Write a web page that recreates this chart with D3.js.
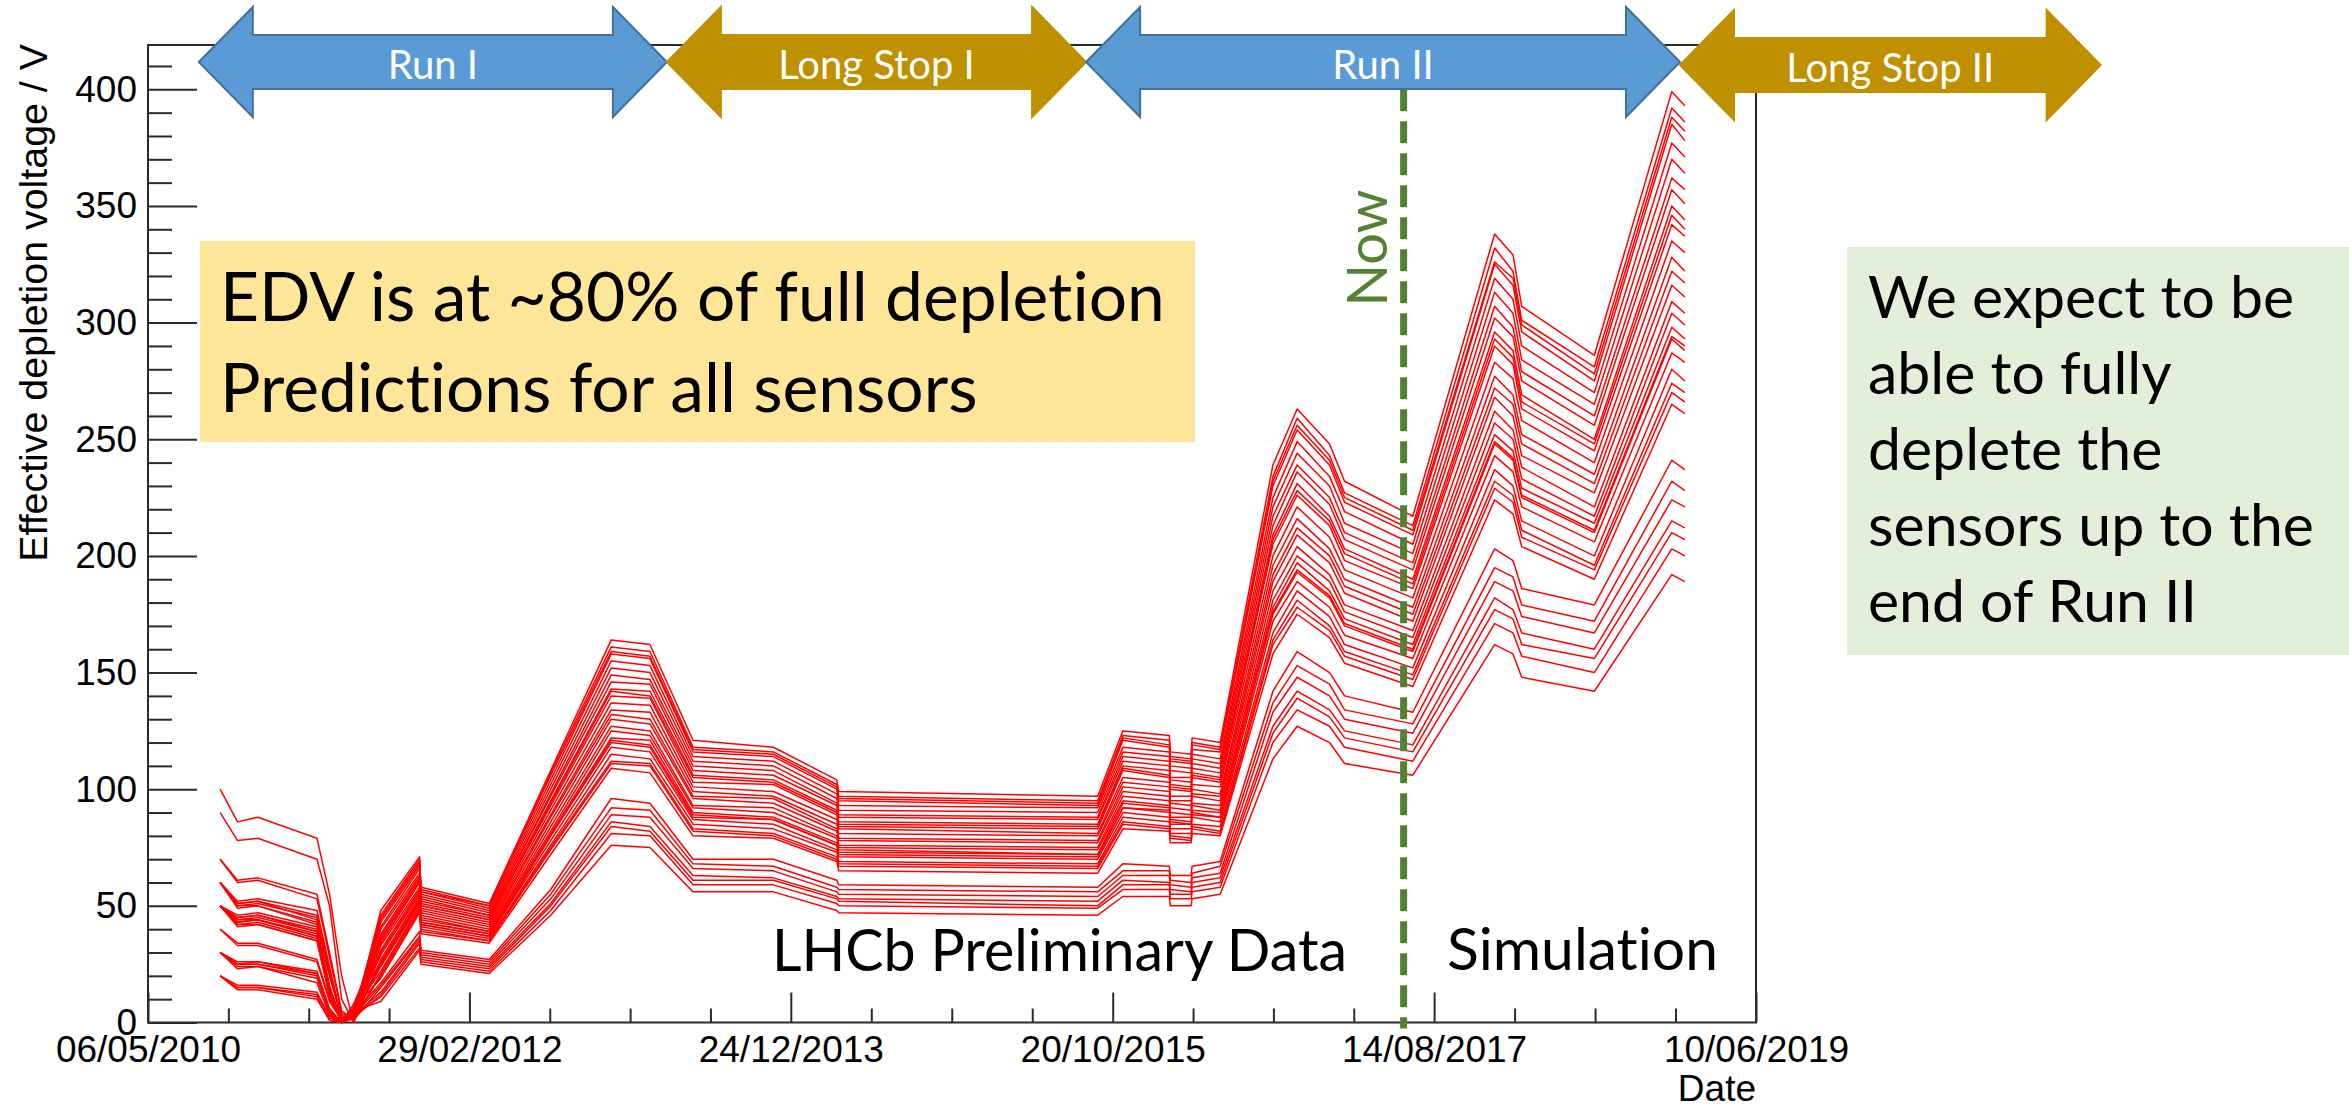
<!DOCTYPE html>
<html>
<head>
<meta charset="utf-8">
<script src="https://cdn.jsdelivr.net/npm/d3@7"></script>
<style>
  html, body { margin: 0; padding: 0; background: #ffffff; }
  svg { display: block; }
  text { font-variant-ligatures: none; font-feature-settings: "liga" 0, "clig" 0; }
</style>
</head>
<body>
<svg id="chart" width="2349" height="1108"></svg>
<script>
// ---------------------------------------------------------------
// Effective depletion voltage (V) of the VELO sensors, one row per sensor.
// The curve of every sensor is split into four consecutive date blocks.
// ---------------------------------------------------------------

// Run I (2010 - spring 2012): initial fall, type inversion, first rise
const runOneDates = ["2010-10-02", "2010-11-07", "2010-12-19", "2011-04-20", "2011-05-16", "2011-06-10",
                     "2011-07-05", "2011-08-30", "2011-11-18", "2011-11-21", "2012-04-10"];
const runOneEDV = [
  [60, 52, 53, 48, 24, 1, 2, 48, 71, 58, 51],
  [50, 46, 47, 41, 16, 0, 4, 46, 70, 57, 50],
  [100, 86, 88, 79, 55, 20, 0, 44, 68, 56, 49],
  [50, 45, 46, 40, 15, 1, 3, 43, 67, 55, 48],
  [60, 51, 52, 46, 22, 2, 1, 41, 66, 54, 47],
  [30, 26, 26, 22, 6, 0, 6, 40, 64, 53, 46],
  [50, 44, 45, 39, 14, 0, 3, 38, 63, 52, 46],
  [70, 61, 62, 55, 30, 5, 1, 37, 62, 51, 45],
  [20, 16, 16, 13, 2, 0, 8, 35, 61, 50, 44],
  [50, 44, 44, 38, 13, 0, 2, 34, 60, 49, 43],
  [60, 50, 51, 45, 21, 2, 2, 33, 58, 48, 42],
  [40, 34, 34, 27, 10, 1, 4, 31, 57, 47, 41],
  [30, 25, 25, 21, 5, 0, 5, 30, 56, 46, 40],
  [50, 43, 44, 37, 14, 1, 3, 29, 55, 45, 39],
  [90, 78, 79, 70, 50, 10, 0, 27, 54, 44, 39],
  [20, 15, 15, 12, 3, 0, 7, 26, 53, 43, 38],
  [60, 50, 50, 43, 20, 2, 2, 25, 52, 42, 37],
  [50, 42, 43, 36, 12, 0, 3, 24, 51, 42, 37],
  [30, 25, 25, 20, 4, 0, 5, 22, 50, 41, 36],
  [70, 60, 61, 53, 28, 4, 1, 21, 49, 40, 35],
  [50, 42, 42, 35, 11, 0, 2, 20, 48, 39, 35],
  [20, 15, 15, 11, 1, 0, 6, 19, 47, 38, 34],
  [30, 24, 24, 19, 4, 0, 4, 17, 39, 31, 27],
  [60, 49, 50, 42, 20, 3, 1, 15, 36, 29, 25],
  [40, 33, 33, 26, 9, 1, 3, 13, 35, 28, 24],
  [50, 41, 42, 35, 12, 0, 2, 12, 34, 27, 23],
  [30, 23, 24, 17, 3, 0, 3, 11, 32, 26, 22],
  [20, 14, 14, 10, 1, 0, 5, 9, 31, 25, 21],
  [50, 45, 46, 39, 14, 0, 4, 45, 69, 56, 50],
  [60, 51, 52, 44, 22, 2, 2, 36, 61, 50, 44],
  [30, 25, 26, 21, 5, 0, 5, 25, 52, 43, 38],
  [50, 43, 44, 37, 15, 1, 3, 16, 37, 30, 26]
];

// 2012 run and Long Stop I annealing
const longStopDates = ["2012-08-15", "2012-12-18", "2013-03-08", "2013-06-05",
                       "2013-11-18", "2014-03-29", "2014-04-02", "2015-09-19"];
const longStopEDV = [
  [108, 164, 162, 121, 118, 104, 99, 97],
  [107, 161, 159, 118, 116, 102, 97, 95],
  [104, 158, 156, 116, 114, 100, 95, 93],
  [102, 155, 153, 114, 112, 98, 93, 92],
  [100, 152, 150, 112, 110, 96, 91, 90],
  [98, 149, 147, 110, 108, 94, 89, 88],
  [97, 146, 145, 108, 106, 93, 88, 87],
  [95, 143, 142, 106, 104, 91, 86, 85],
  [93, 140, 139, 103, 102, 89, 84, 83],
  [91, 137, 136, 101, 99, 87, 83, 81],
  [89, 134, 133, 99, 97, 85, 81, 80],
  [88, 132, 130, 97, 96, 83, 79, 78],
  [86, 130, 128, 96, 94, 82, 78, 77],
  [84, 127, 125, 93, 92, 80, 76, 75],
  [82, 125, 123, 92, 90, 79, 75, 74],
  [81, 122, 121, 90, 88, 77, 74, 72],
  [80, 120, 118, 88, 87, 76, 72, 71],
  [78, 118, 116, 87, 85, 74, 71, 70],
  [76, 115, 113, 85, 83, 73, 69, 68],
  [75, 112, 111, 83, 81, 71, 68, 67],
  [74, 111, 110, 82, 80, 70, 67, 66],
  [72, 109, 107, 80, 79, 69, 65, 64],
  [57, 96, 94, 70, 70, 61, 59, 58],
  [53, 89, 88, 66, 65, 56, 55, 54],
  [51, 86, 84, 63, 62, 54, 53, 52],
  [50, 84, 82, 61, 61, 53, 52, 50],
  [48, 81, 80, 59, 59, 51, 50, 49],
  [46, 76, 75, 56, 56, 48, 47, 46],
  [106, 159, 157, 117, 115, 101, 96, 94],
  [94, 142, 140, 105, 103, 90, 85, 84],
  [80, 121, 119, 89, 87, 76, 73, 72],
  [55, 92, 91, 68, 67, 58, 57, 56]
];

// Run II measurements up to mid 2017
const runTwoDates = ["2015-11-10", "2016-02-14", "2016-02-16", "2016-03-30", "2016-04-01", "2016-05-29",
                     "2016-09-15", "2016-11-04", "2017-01-10", "2017-02-10", "2017-07-01"];
const runTwoEDV = [
  [125, 123, 116, 115, 122, 120, 239, 263, 248, 232, 217],
  [123, 121, 114, 113, 120, 118, 234, 259, 243, 227, 213],
  [121, 118, 112, 111, 117, 116, 230, 254, 239, 223, 209],
  [118, 116, 110, 109, 115, 113, 225, 249, 234, 219, 205],
  [116, 114, 108, 107, 113, 111, 221, 244, 230, 214, 201],
  [114, 112, 105, 105, 111, 109, 217, 239, 225, 210, 197],
  [112, 110, 104, 103, 109, 107, 213, 236, 222, 207, 194],
  [110, 108, 102, 101, 107, 105, 209, 231, 217, 203, 190],
  [108, 105, 100, 99, 105, 103, 205, 226, 213, 198, 186],
  [105, 103, 97, 97, 102, 101, 200, 221, 208, 194, 182],
  [103, 101, 95, 95, 100, 98, 196, 216, 203, 190, 178],
  [101, 99, 94, 93, 98, 97, 192, 212, 200, 187, 175],
  [99, 97, 92, 91, 97, 95, 189, 209, 197, 184, 172],
  [97, 95, 90, 89, 94, 93, 185, 204, 192, 179, 168],
  [95, 93, 88, 88, 93, 91, 181, 200, 189, 176, 165],
  [94, 92, 87, 86, 91, 90, 178, 197, 185, 173, 162],
  [92, 90, 85, 85, 89, 88, 175, 193, 182, 170, 159],
  [90, 88, 83, 83, 88, 86, 172, 189, 178, 166, 156],
  [88, 86, 81, 81, 85, 84, 167, 185, 174, 162, 152],
  [86, 84, 80, 79, 84, 82, 164, 181, 170, 159, 149],
  [85, 83, 79, 78, 83, 81, 162, 178, 168, 157, 147],
  [83, 82, 77, 77, 81, 80, 158, 175, 165, 154, 144],
  [68, 67, 63, 63, 67, 69, 142, 159, 150, 140, 133],
  [63, 63, 59, 58, 62, 64, 133, 148, 140, 130, 124],
  [61, 60, 57, 56, 60, 62, 127, 142, 134, 125, 119],
  [59, 59, 55, 55, 58, 60, 124, 139, 131, 122, 116],
  [57, 57, 53, 53, 56, 58, 120, 134, 127, 118, 112],
  [54, 54, 50, 50, 53, 55, 113, 127, 120, 111, 106],
  [122, 119, 113, 112, 119, 117, 232, 256, 241, 225, 211],
  [109, 106, 101, 100, 106, 104, 207, 228, 215, 201, 188],
  [92, 91, 86, 85, 90, 88, 176, 194, 183, 171, 160],
  [65, 65, 61, 60, 64, 67, 137, 153, 145, 134, 128]
];

// Simulated evolution until the end of Run II
const forecastDates = ["2017-12-17", "2018-01-24", "2018-02-11", "2018-07-11", "2018-12-18", "2019-01-14"];
const forecastEDV = [
  [338, 329, 307, 286, 399, 393],
  [332, 322, 301, 281, 392, 386],
  [325, 316, 296, 275, 385, 378],
  [319, 310, 290, 270, 377, 371],
  [313, 304, 284, 265, 370, 364],
  [307, 298, 279, 260, 362, 357],
  [302, 294, 275, 256, 357, 351],
  [296, 288, 269, 250, 350, 344],
  [290, 282, 263, 245, 342, 337],
  [283, 276, 258, 240, 335, 330],
  [277, 269, 252, 235, 328, 322],
  [272, 265, 248, 231, 322, 317],
  [268, 260, 243, 227, 316, 311],
  [262, 254, 238, 221, 309, 304],
  [257, 250, 233, 217, 304, 299],
  [252, 245, 229, 214, 298, 293],
  [248, 241, 225, 210, 293, 288],
  [243, 236, 221, 206, 287, 283],
  [237, 230, 215, 200, 280, 275],
  [232, 226, 211, 196, 274, 270],
  [229, 223, 208, 194, 270, 266],
  [224, 218, 204, 190, 265, 261],
  [203, 198, 186, 179, 241, 237],
  [189, 185, 174, 167, 224, 221],
  [182, 177, 167, 160, 215, 212],
  [177, 173, 162, 156, 210, 207],
  [171, 167, 157, 150, 203, 200],
  [162, 158, 148, 142, 192, 189],
  [326, 319, 299, 278, 388, 382],
  [293, 285, 266, 248, 346, 340],
  [249, 242, 226, 211, 294, 290],
  [195, 191, 179, 172, 232, 228]
];

// Axis ticks
const xTickDates = ["2010-05-06", "2012-02-29", "2013-12-24", "2015-10-20", "2017-08-14", "2019-06-10"];
const yTicks = [0, 50, 100, 150, 200, 250, 300, 350, 400];
const yExtent = [0, 419];

// LHC running periods shown above the frame
const periodNames  = ["Run I", "Long Stop I", "Run II", "Long Stop II"];
const periodStarts = ["2010-08-19", "2013-04-12", "2015-08-26", "2019-01-04"];
const periodEnds   = ["2013-04-12", "2015-08-26", "2019-01-04", "2021-05-22"];
const periodKinds  = ["run", "stop", "run", "stop"];

const nowDate = "2017-06-12";

// ---------------------------------------------------------------
const parse = d3.utcParse("%Y-%m-%d");
const fmt = d3.utcFormat("%d/%m/%Y");
const svg = d3.select("#chart");

const frame = { left: 148, right: 1756, top: 45, bottom: 1022.5 };
const AXIS_FONT = "'Liberation Sans', Arial, Helvetica, sans-serif";
const TEXT_FONT = "Lato, 'Open Sans', sans-serif";

const x = d3.scaleUtc()
  .domain([parse(xTickDates[0]), parse(xTickDates[xTickDates.length - 1])])
  .range([frame.left, frame.right]);
const y = d3.scaleLinear().domain(yExtent).range([frame.bottom, frame.top]);

// scale a text's font size so that it spans the given width
function fitWidth(sel, width) {
  const w = sel.node().getComputedTextLength();
  const fs = parseFloat(sel.attr("font-size"));
  sel.attr("font-size", (fs * width / w).toFixed(2));
  return sel;
}

// ---------------- axes and frame ----------------
const axes = svg.append("g").attr("class", "axes");

const yMinor = d3.range(0, yExtent[1], 10).filter(v => v % 50 !== 0);
axes.append("g")
  .attr("transform", `translate(${frame.left},0)`)
  .call(d3.axisLeft(y).tickValues(yMinor).tickSizeInner(-24).tickSizeOuter(0).tickFormat(""))
  .call(g => g.select(".domain").remove());
axes.append("g")
  .attr("transform", `translate(${frame.left},0)`)
  .call(d3.axisLeft(y).tickValues(yTicks).tickSizeInner(-49).tickSizeOuter(0).tickPadding(11)
        .tickFormat(d3.format("d")))
  .call(g => g.select(".domain").remove());

const xMajor = xTickDates.map(parse);
const xMinor = [];
for (let i = 0; i < xMajor.length - 1; i++) {
  const t0 = +xMajor[i], t1 = +xMajor[i + 1];
  for (let k = 1; k < 4; k++) xMinor.push(new Date(t0 + (t1 - t0) * k / 4));
}
axes.append("g")
  .attr("transform", `translate(0,${frame.bottom})`)
  .call(d3.axisBottom(x).tickValues(xMinor).tickSizeInner(-14).tickSizeOuter(0).tickFormat(""))
  .call(g => g.select(".domain").remove());
axes.append("g")
  .attr("transform", `translate(0,${frame.bottom})`)
  .call(d3.axisBottom(x).tickValues(xMajor).tickSizeInner(-30).tickSizeOuter(0).tickPadding(13.5)
        .tickFormat(fmt))
  .call(g => g.select(".domain").remove());

axes.selectAll(".tick line").attr("stroke", "#2b2b2b").attr("stroke-width", 2);
axes.selectAll(".tick text")
  .attr("font-family", AXIS_FONT).attr("font-size", 37).attr("fill", "#000");

axes.append("rect")
  .attr("x", frame.left).attr("y", frame.top)
  .attr("width", frame.right - frame.left).attr("height", frame.bottom - frame.top)
  .attr("fill", "none").attr("stroke", "#2b2b2b").attr("stroke-width", 2);

fitWidth(axes.append("text")
  .attr("transform", `translate(47,${frame.top - 1}) rotate(-90)`)
  .attr("text-anchor", "end")
  .attr("font-family", AXIS_FONT).attr("font-size", 37)
  .text("Effective depletion voltage / V"), 518);
axes.append("text")
  .attr("x", frame.right).attr("y", 1101)
  .attr("text-anchor", "end")
  .attr("font-family", AXIS_FONT).attr("font-size", 37)
  .text("Date");

// ---------------- sensor curves ----------------
const allDates = [...runOneDates, ...longStopDates, ...runTwoDates, ...forecastDates].map(parse);
const sensors = runOneEDV.map((row, i) =>
  [...row, ...longStopEDV[i], ...runTwoEDV[i], ...forecastEDV[i]]);
const line = d3.line().x((d, j) => x(allDates[j])).y(d => y(d));

svg.append("g").attr("class", "sensors")
  .selectAll("path").data(sensors).join("path")
  .attr("d", line)
  .attr("fill", "none")
  .attr("stroke", "#ff0000")
  .attr("stroke-width", 1.5)
  .attr("stroke-linejoin", "round");

// ---------------- "Now" marker ----------------
const xNow = x(parse(nowDate));
svg.append("line")
  .attr("x1", xNow).attr("x2", xNow)
  .attr("y1", y(400)).attr("y2", frame.bottom + 6)
  .attr("stroke", "#548235").attr("stroke-width", 7)
  .attr("stroke-dasharray", "22,10");
svg.append("text")
  .attr("transform", `translate(${xNow - 17},248) rotate(-90)`)
  .attr("text-anchor", "middle")
  .attr("font-family", TEXT_FONT).attr("font-size", 56)
  .attr("fill", "#548235")
  .text("Now");

// ---------------- data / simulation labels ----------------
fitWidth(svg.append("text")
  .attr("x", 772).attr("y", 971)
  .attr("font-family", TEXT_FONT).attr("font-size", 56).attr("fill", "#000")
  .text("LHCb Preliminary Data"), 575);
fitWidth(svg.append("text")
  .attr("x", 1447).attr("y", 970)
  .attr("font-family", TEXT_FONT).attr("font-size", 56).attr("fill", "#000")
  .text("Simulation"), 271);

// ---------------- note boxes ----------------
svg.append("rect")
  .attr("x", 200).attr("y", 241).attr("width", 995).attr("height", 201)
  .attr("fill", "#FFE699");
const noteFs = parseFloat(fitWidth(svg.append("text")
  .attr("x", 220).attr("y", 321)
  .attr("font-family", TEXT_FONT).attr("font-size", 64).attr("fill", "#000")
  .text("EDV is at ~80% of full depletion"), 945).attr("font-size"));
svg.append("text")
  .attr("x", 220).attr("y", 412)
  .attr("font-family", TEXT_FONT).attr("font-size", noteFs).attr("fill", "#000")
  .text("Predictions for all sensors");

svg.append("rect")
  .attr("x", 1847).attr("y", 247).attr("width", 502).attr("height", 408)
  .attr("fill", "#E2F0D9");
const outlook = ["We expect to be", "able to fully", "deplete the", "sensors up to the", "end of Run II"];
const probe = fitWidth(svg.append("text")
  .attr("font-family", TEXT_FONT).attr("font-size", 50).text(outlook[3]), 446);
const outlookFs = probe.attr("font-size");
probe.remove();
svg.append("g").selectAll("text").data(outlook).join("text")
  .attr("x", 1868).attr("y", (d, i) => 318 + i * 76)
  .attr("font-family", TEXT_FONT).attr("font-size", outlookFs).attr("fill", "#000")
  .text(d => d);

// ---------------- period arrows ----------------
const periods = periodNames.map((name, i) => ({
  name, kind: periodKinds[i], x1: x(parse(periodStarts[i])), x2: x(parse(periodEnds[i]))
}));
const headLen = 54, headHalf = 55, shaftHalf = 27;
function arrowPath(x1, x2, cy) {
  return d3.line()([
    [x1, cy], [x1 + headLen, cy - headHalf], [x1 + headLen, cy - shaftHalf],
    [x2 - headLen, cy - shaftHalf], [x2 - headLen, cy - headHalf], [x2, cy],
    [x2 - headLen, cy + headHalf], [x2 - headLen, cy + shaftHalf],
    [x1 + headLen, cy + shaftHalf], [x1 + headLen, cy + headHalf]
  ]) + "Z";
}
const arrows = svg.append("g").attr("class", "periods")
  .selectAll("g").data(periods).join("g");
arrows.append("path")
  .attr("d", (d, i) => arrowPath(d.x1, d.x2, i === 3 ? 65 : 62))
  .attr("fill", d => d.kind === "run" ? "#5B9BD5" : "#BF9000")
  .attr("stroke", d => d.kind === "run" ? "#41719C" : "#BF9000")
  .attr("stroke-width", 2)
  .attr("stroke-linejoin", "miter");
arrows.append("text")
  .attr("x", d => (d.x1 + d.x2) / 2)
  .attr("y", (d, i) => i === 3 ? 82 : 79)
  .attr("text-anchor", "middle")
  .attr("font-family", TEXT_FONT).attr("font-size", 40)
  .attr("fill", "#ffffff")
  .text(d => d.name);
</script>
</body>
</html>
